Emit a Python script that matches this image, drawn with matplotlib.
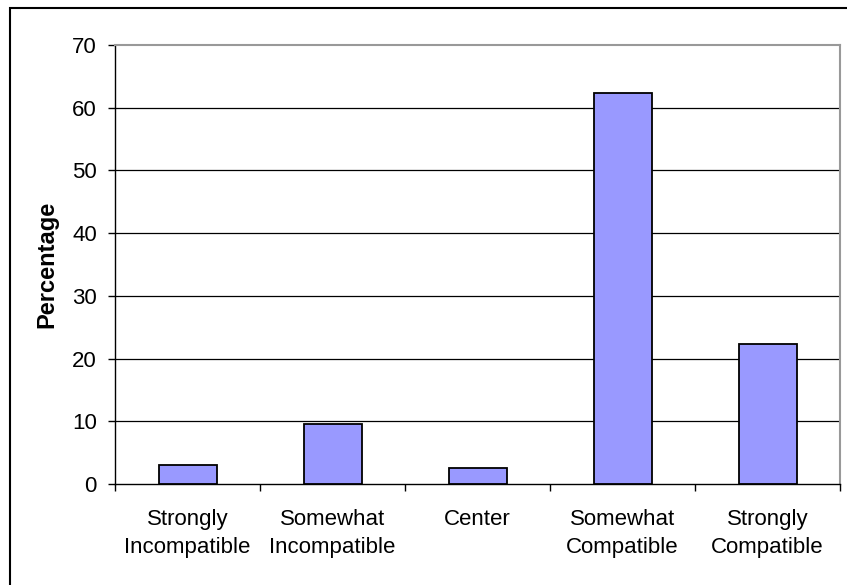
import matplotlib
matplotlib.use('Agg')
import matplotlib.pyplot as plt
from matplotlib.patches import Rectangle
import numpy as np

plt.rcParams['font.family'] = ['Liberation Sans', 'DejaVu Sans']

categories = ['Strongly\nIncompatible', 'Somewhat\nIncompatible', 'Center',
              'Somewhat\nCompatible', 'Strongly\nCompatible']
percentages = [3.0, 9.5, 2.5, 62.4, 22.4]
y_ticks = [0, 10, 20, 30, 40, 50, 60, 70]

W, H = 847, 585
fig = plt.figure(figsize=(W / 100, H / 100), dpi=100)
ax = fig.add_axes([115 / W, 1 - 484 / H, 725 / W, (484 - 45) / H])

# outer chart frame (only left and top edges fall inside the image)
fig.patches.append(Rectangle((10 / W, -0.05), 1.0, 1 - 8 / H + 0.05,
                             transform=fig.transFigure, fill=False,
                             edgecolor='black', linewidth=1.5))

x = np.arange(len(categories))
ax.bar(x, percentages, width=0.4, color='#9999FF', edgecolor='black',
       linewidth=1.3, zorder=3)

ax.set_xlim(-0.5, len(categories) - 0.5)
ax.set_ylim(0, 70)
ax.set_yticks(y_ticks)
ax.tick_params(axis='y', labelsize=16, length=5, width=1, direction='out', pad=8)
for t in y_ticks[1:-1]:
    ax.axhline(t, color='black', linewidth=0.9, zorder=1)

# category labels between boundary ticks
ax.set_xticks(np.arange(len(categories) + 1) - 0.5)
ax.set_xticklabels([])
ax.tick_params(axis='x', length=5, width=1, direction='out')
for i, c in enumerate(categories):
    ax.text(i, -0.056, c, transform=ax.get_xaxis_transform(), ha='center',
            va='top', fontsize=16, linespacing=1.45)

ax.set_ylabel('Percentage', fontsize=17, fontweight='bold')
ax.yaxis.set_label_coords(-(115 - 58) / 725, 0.5)

ax.spines['left'].set_color('black')
ax.spines['bottom'].set_color('black')
ax.spines['left'].set_linewidth(1)
ax.spines['bottom'].set_linewidth(1)
ax.spines['top'].set_color('#999999')
ax.spines['right'].set_color('#999999')
ax.spines['top'].set_linewidth(1.5)
ax.spines['right'].set_linewidth(1.5)

fig.savefig('out.png', dpi=100)
